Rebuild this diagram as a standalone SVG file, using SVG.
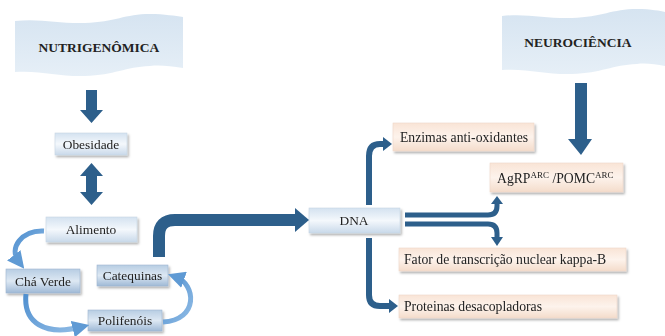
<svg xmlns="http://www.w3.org/2000/svg" width="665" height="336" viewBox="0 0 665 336">
<style>
text{font-family:"Liberation Serif","Times New Roman",Times,serif;fill:#222;}
.b{font-weight:bold;font-size:13.5px;}
.s{font-size:13.4px;text-anchor:middle;}
.p{font-size:13.7px;}
.dk{fill:#2d5f8b;}
.ln{fill:none;stroke:#2d5f8b;stroke-linecap:butt;}
.lb{fill:none;stroke:url(#lbg);stroke-width:5;}
</style>
<defs>
<linearGradient id="blue" x1="0" y1="0" x2="0" y2="1">
<stop offset="0" stop-color="#d4e2f0"/><stop offset="0.5" stop-color="#f4f8fc"/><stop offset="1" stop-color="#c9d9ea"/>
</linearGradient>
<linearGradient id="blue2" x1="0" y1="0" x2="0" y2="1">
<stop offset="0" stop-color="#b7cde3"/><stop offset="0.5" stop-color="#dde8f3"/><stop offset="1" stop-color="#9fb9d6"/>
</linearGradient>
<linearGradient id="peach" x1="0" y1="0" x2="0" y2="1">
<stop offset="0" stop-color="#f9e4d6"/><stop offset="0.5" stop-color="#fdf3ec"/><stop offset="1" stop-color="#f4dccb"/>
</linearGradient>
<linearGradient id="ban" x1="0" y1="0" x2="0" y2="1">
<stop offset="0" stop-color="#d6e4f1"/><stop offset="1" stop-color="#e6eff7"/>
</linearGradient>
<linearGradient id="lbg" x1="0" y1="0" x2="1" y2="1">
<stop offset="0" stop-color="#4f8fcf"/><stop offset="1" stop-color="#8fbbe5"/>
</linearGradient>
<filter id="sh" x="-10%" y="-20%" width="130%" height="160%">
<feDropShadow dx="1.5" dy="2" stdDeviation="1.2" flood-color="#000" flood-opacity="0.3"/>
</filter>
<marker id="lh" viewBox="0 0 10 10" refX="5" refY="5" markerWidth="3.4" markerHeight="3.4" orient="auto">
<path d="M0,0 L10,5 L0,10 Z" fill="#5f9ad4"/>
</marker>
</defs>

<g id="nutrigenomica">
<path d="M15,21 C40,18 60,24 85,23 C115,22 125,14 150,14 C165,14 175,16 183,17 L183,68 C170,66 160,65 150,66 C125,67 115,75 85,76 C60,77 40,70 15,72 Z" fill="url(#ban)"/>
<text class="b" x="99" y="52" text-anchor="middle">NUTRIGENÔMICA</text>
</g>

<g id="neurociencia">
<path d="M502,16 C527,13 547,19 572,18 C602,17 612,9 637,9 C652,9 660,11 665,12 L665,66 C655,64 645,63 637,64 C612,65 602,73 572,74 C547,75 527,68 502,70 Z" fill="url(#ban)"/>
<text class="b" x="578" y="47" text-anchor="middle">NEUROCIÊNCIA</text>
</g>

<g id="obesidade" filter="url(#sh)">
<rect x="55" y="133" width="72" height="22" fill="url(#blue)" stroke="#c7d5e4" stroke-width="0.6"/>
<text class="s" x="91" y="148.5">Obesidade</text>
</g>

<g id="alimento" filter="url(#sh)">
<rect x="46" y="217" width="91" height="25" fill="url(#blue)" stroke="#c7d5e4" stroke-width="0.6"/>
<text class="s" x="91" y="233.5">Alimento</text>
</g>

<g id="cha-verde" filter="url(#sh)">
<rect x="6" y="269" width="74" height="24" fill="url(#blue2)" stroke="#9fb6cf" stroke-width="0.6"/>
<text class="s" x="43" y="285.5">Chá Verde</text>
</g>

<g id="catequinas" filter="url(#sh)">
<rect x="97" y="265" width="71" height="21" fill="url(#blue2)" stroke="#9fb6cf" stroke-width="0.6"/>
<text class="s" x="132.5" y="279.5">Catequinas</text>
</g>

<g id="polifenois" filter="url(#sh)">
<rect x="88" y="310" width="74" height="21" fill="url(#blue2)" stroke="#9fb6cf" stroke-width="0.6"/>
<text class="s" x="125" y="325">Polifenóis</text>
</g>

<g id="dna" filter="url(#sh)">
<rect x="309" y="208" width="91" height="25" fill="url(#blue)" stroke="#c7d5e4" stroke-width="0.6"/>
<text class="s" x="354" y="224.5">DNA</text>
</g>

<g id="enzimas" filter="url(#sh)">
<rect x="393" y="123" width="141" height="28" fill="url(#peach)" stroke="#efd8c8" stroke-width="0.6"/>
<text class="p" x="400" y="141.5">Enzimas anti-oxidantes</text>
</g>

<g id="agrp" filter="url(#sh)">
<rect x="490" y="163" width="133" height="29" fill="url(#peach)" stroke="#efd8c8" stroke-width="0.6"/>
<text class="p" x="497" y="182.5">AgRP<tspan font-size="9" dy="-4.5">ARC</tspan><tspan dy="4.5"> /POMC</tspan><tspan font-size="9" dy="-4.5">ARC</tspan></text>
</g>

<g id="fator" filter="url(#sh)">
<rect x="399" y="248" width="227" height="23" fill="url(#peach)" stroke="#efd8c8" stroke-width="0.6"/>
<text class="p" x="404" y="264">Fator de transcrição nuclear kappa-B</text>
</g>

<g id="proteinas" filter="url(#sh)">
<rect x="399" y="295" width="218" height="23" fill="url(#peach)" stroke="#efd8c8" stroke-width="0.6"/>
<text class="p" x="404" y="311">Proteinas desacopladoras</text>
</g>

<g id="connectors">
<path class="dk" d="M86,90 H97 V110 H103 L91.5,123 L80,110 H86 Z"/>
<path class="dk" d="M91.5,163 L103,176 H97 V192 H103 L91.5,205 L80,192 H86 V176 H80 Z"/>
<path class="dk" d="M575,83 H587 V139 H592 L581,155 L568,139 H575 Z"/>
<path class="ln" stroke-width="12" d="M159,257 V236 Q159,220 175,220 H296"/>
<path class="dk" d="M295,208 L309,220 L295,232 Z"/>
<path class="ln" stroke-width="6" d="M369,205 V156 Q369,144 380,144 H384"/>
<path class="dk" d="M383,137 L392,144 L383,151 Z"/>
<path class="ln" stroke-width="6" d="M369,238 V295 Q369,306 380,306 H390"/>
<path class="dk" d="M389,299 L398,306 L389,313 Z"/>
<path class="ln" stroke-width="5" d="M405,215 H488 Q497,215 497,206 V203"/>
<path class="dk" d="M491,204 L497,196 L503,204 Z"/>
<path class="ln" stroke-width="5" d="M405,224 H488 Q497,224 497,233 V238"/>
<path class="dk" d="M491,237 L497,246 L503,237 Z"/>
<path class="lb" d="M44,231 C22,230 8,248 19,262" marker-end="url(#lh)"/>
<path class="lb" d="M26,294 C23,323 45,336 81,327" marker-end="url(#lh)"/>
<path class="lb" d="M163,322 C199,320 196,284 176,277" marker-end="url(#lh)"/>
</g>
</svg>
